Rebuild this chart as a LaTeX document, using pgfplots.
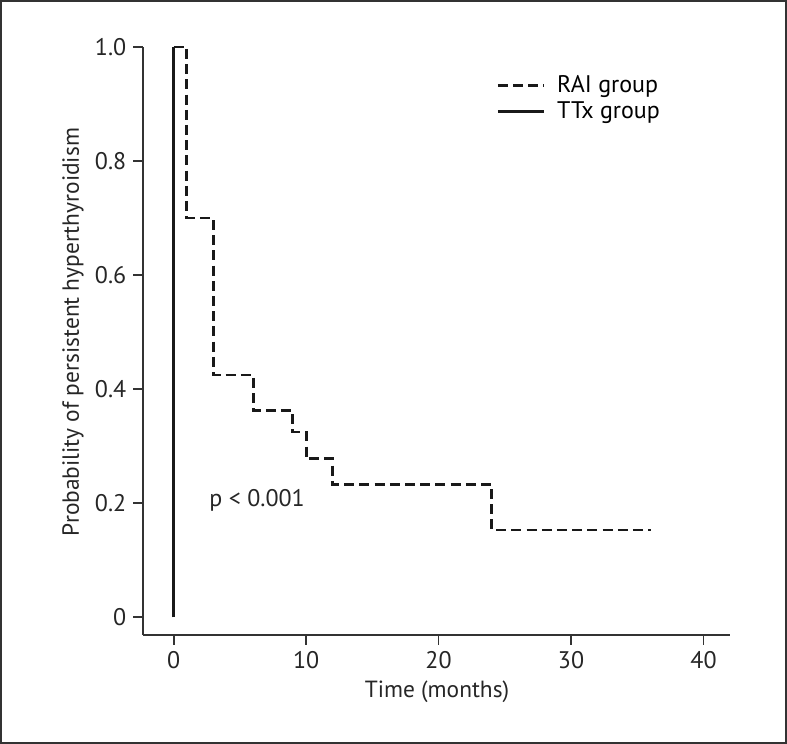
\documentclass[border=0pt]{standalone}
\usepackage{fontspec}
\setmainfont{PT Sans}
\usepackage{pgfplots}
\pgfplotsset{compat=1.18}
\begin{document}
\begin{tikzpicture}
\useasboundingbox (-71.65pt,-54.65pt) rectangle (321.85pt,317.35pt);
\draw[line width=1pt, black!80] (-70.9pt,-53.9pt) rectangle (321.1pt,316.6pt);
\begin{axis}[
  scale only axis, width=293.35pt, height=293.85pt,
  at={(0pt,0pt)}, anchor=south west,
  xmin=-2.29, xmax=42.0, ymin=-0.0305, ymax=1.0,
  axis x line*=bottom, axis y line*=left,
  axis line style={line width=0.9pt, black!80, -},
  tick align=outside, major tick length=5pt,
  tick style={line width=0.9pt, black!80},
  xtick={0,10,20,30,40}, xticklabels={0,10,20,30,40},
  ytick={0,0.2,0.4,0.6,0.8,1.0}, yticklabels={0,0.2,0.4,0.6,0.8,1.0},
  tick label style={font=\fontsize{12}{14}\selectfont, text=black!85},
  label style={font=\fontsize{11.7}{14}\selectfont, text=black!85},
  xlabel={Time (months)},
  ylabel={Probability of persistent hyperthyroidism},
  xlabel style={at={(axis description cs:0.5006,-0.0975)}, anchor=center},
  ylabel style={at={(axis description cs:-0.12,0.515)}, anchor=center, rotate=0},
  clip=false,
  legend style={draw=none, fill=none, at={(axis description cs:0.591,0.966)}, anchor=north west,
    font=\fontsize{12}{14}\selectfont, row sep=-1pt},
  legend cell align=left,
  legend image code/.code={\draw[#1] (0pt,0pt) -- (23pt,0pt); \path (27pt,0pt);},
]
\addplot[const plot, black!90, line width=1.4pt, dash pattern=on 5pt off 2.6pt]
  coordinates {(0,1) (1,0.70) (3,0.425) (6,0.362) (9,0.325) (10,0.278) (12,0.233) (24,0.153) (36,0.153)};
\addlegendentry[legend image code/.code={\draw[black!90, line width=1.4pt, dash pattern=on 5pt off 4pt] (0pt,0pt) -- (23pt,0pt); \path (27pt,0pt);}]{RAI group}
\addplot[black!90, line width=1.2pt]
  coordinates {(0,0) (0,1)};
\addlegendentry{TTx group}
\node[font=\fontsize{12}{14}\selectfont, text=black!85] at (axis cs:6.3,0.205) {p < 0.001};
\end{axis}
\end{tikzpicture}
\end{document}
